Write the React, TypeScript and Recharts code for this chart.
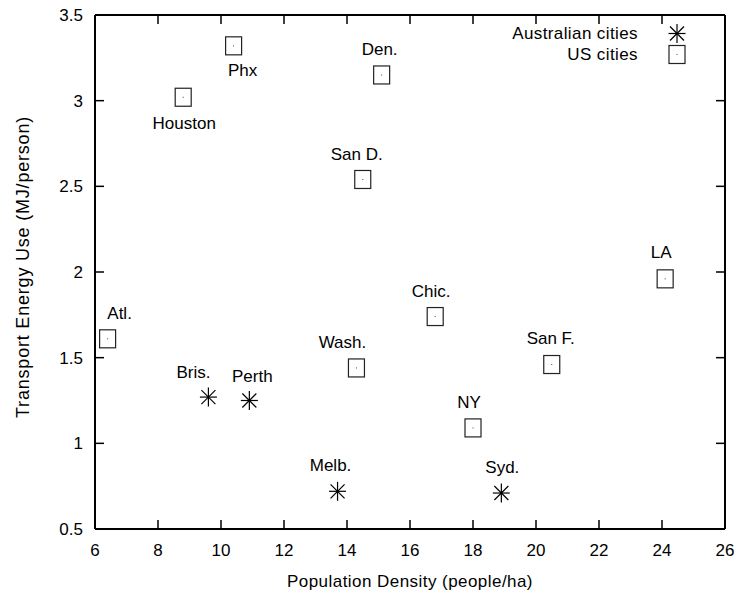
import React from "react";
import { ScatterChart, Scatter, XAxis, YAxis, Legend } from "recharts";

// US cities
const usCities = ["Atl.", "Houston", "Phx", "Den.", "San D.", "LA", "Chic.", "Wash.", "San F.", "NY"];
const usDensity = [6.4, 8.8, 10.4, 15.1, 14.5, 24.1, 16.8, 14.3, 20.5, 18.0];
const usEnergy = [1.61, 3.02, 3.32, 3.15, 2.54, 1.96, 1.74, 1.44, 1.46, 1.09];

// Australian cities
const auCities = ["Bris.", "Perth", "Melb.", "Syd."];
const auDensity = [9.6, 10.9, 13.7, 18.9];
const auEnergy = [1.27, 1.25, 0.72, 0.71];

const xTicks = [6, 8, 10, 12, 14, 16, 18, 20, 22, 24, 26];
const yTicks = [0.5, 1, 1.5, 2, 2.5, 3, 3.5];

const FONT = "'Liberation Sans', Arial, Helvetica, sans-serif";
const FS = 17;

// where each city name sits relative to its mark (dx, dy of text centre)
const labelOffset: Record<string, [number, number]> = {
  "Atl.": [12, -25],
  Houston: [1, 26],
  Phx: [9, 25],
  "Den.": [-2, -25],
  "San D.": [-6, -25],
  LA: [-4, -26],
  "Chic.": [-4, -25],
  "Wash.": [-14, -25],
  "San F.": [-1, -26],
  NY: [-4, -25],
  "Bris.": [-15, -25],
  Perth: [3, -24],
  "Melb.": [-7, -26],
  "Syd.": [1, -26],
};

const usData = usCities.map((name, i) => ({ name, x: usDensity[i], y: usEnergy[i] }));
const auData = auCities.map((name, i) => ({ name, x: auDensity[i], y: auEnergy[i] }));

function SquareMark({ cx, cy }: { cx: number; cy: number }) {
  return (
    <g>
      <rect x={cx - 8} y={cy - 9} width={16} height={18} fill="none" stroke="#222" strokeWidth={1.2} />
      <rect x={cx - 0.5} y={cy - 0.5} width={1} height={1} fill="#444" />
    </g>
  );
}

function StarMark({ cx, cy }: { cx: number; cy: number }) {
  return (
    <g stroke="#000" strokeWidth={1.2}>
      <line x1={cx} y1={cy - 9.5} x2={cx} y2={cy + 9.5} />
      <line x1={cx - 8.5} y1={cy} x2={cx + 8.5} y2={cy} />
      <line x1={cx - 7} y1={cy - 7} x2={cx + 7} y2={cy + 7} />
      <line x1={cx - 7} y1={cy + 7} x2={cx + 7} y2={cy - 7} />
    </g>
  );
}

function cityShape(kind: "us" | "au") {
  return (props: any) => {
    const { cx, cy, payload } = props;
    const [dx, dy] = labelOffset[payload.name] || [0, -25];
    return (
      <g>
        {kind === "us" ? <SquareMark cx={cx} cy={cy} /> : <StarMark cx={cx} cy={cy} />}
        <text
          x={cx + dx}
          y={cy + dy}
          textAnchor="middle"
          dominantBaseline="central"
          fontFamily={FONT}
          fontSize={FS}
          fill="#000"
        >
          {payload.name}
        </text>
      </g>
    );
  };
}

function LegendBox({ payload }: any) {
  return (
    <div style={{ fontFamily: FONT, fontSize: FS, color: "#000", letterSpacing: 0.4 }}>
      {(payload || []).map((p: any) => (
        <div key={p.value} style={{ display: "flex", alignItems: "center", justifyContent: "flex-end", height: 21 }}>
          <span>{p.value}</span>
          <svg width={20} height={21} style={{ marginLeft: 29 }}>
            {p.value === "US cities" ? <SquareMark cx={10} cy={10.5} /> : <StarMark cx={10} cy={10.5} />}
          </svg>
        </div>
      ))}
    </div>
  );
}

const tickStyle = { fill: "#000", fontSize: FS, fontFamily: FONT };
const noLabel = () => <g />;
const tickLineStyle = { stroke: "#000", strokeWidth: 1.5 };

export default function App() {
  return (
    <div style={{ position: "absolute", left: 0, top: 0, width: 740, height: 596, background: "#fff" }}>
      <ScatterChart width={740} height={596} margin={{ top: 15, right: 15, bottom: 7, left: 35 }}>
        <XAxis
          type="number"
          dataKey="x"
          domain={[6, 26]}
          ticks={xTicks}
          allowDataOverflow
          height={60}
          tickLine={false}
          tickSize={0}
          tickMargin={15}
          tick={tickStyle}
          axisLine={{ stroke: "#000", strokeWidth: 2 }}
          label={{
            value: "Population Density (people/ha)",
            position: "insideBottom",
            offset: 2,
            fill: "#000",
            fontSize: FS,
            fontFamily: FONT,
            letterSpacing: 0.45,
          }}
        />
        <XAxis
          xAxisId="bottomTicks"
          type="number"
          dataKey="x"
          domain={[6, 26]}
          ticks={xTicks}
          allowDataOverflow
          orientation="bottom"
          mirror
          tick={noLabel}
          axisLine={false}
          tickSize={9}
          tickLine={tickLineStyle}
        />
        <XAxis
          xAxisId="top"
          type="number"
          dataKey="x"
          domain={[6, 26]}
          ticks={xTicks}
          allowDataOverflow
          orientation="top"
          mirror
          tick={noLabel}
          tickSize={9}
          axisLine={{ stroke: "#000", strokeWidth: 2 }}
          tickLine={tickLineStyle}
        />
        <YAxis
          type="number"
          dataKey="y"
          domain={[0.5, 3.5]}
          ticks={yTicks}
          allowDataOverflow
          width={60}
          tickLine={false}
          tickSize={0}
          tickMargin={12}
          tick={tickStyle}
          axisLine={{ stroke: "#000", strokeWidth: 2 }}
          label={{
            content: (props: any) => {
              const vb = props.viewBox || { x: 35, y: 15, width: 60, height: 514 };
              const x = vb.x - 12;
              const y = vb.y + vb.height / 2 - 5;
              return (
                <text
                  x={x}
                  y={y}
                  transform={`rotate(-90 ${x} ${y})`}
                  textAnchor="middle"
                  dominantBaseline="central"
                  fontFamily={FONT}
                  fontSize={18}
                  letterSpacing={0.8}
                  fill="#000"
                >
                  Transport Energy Use (MJ/person)
                </text>
              );
            },
          }}
        />
        <YAxis
          yAxisId="leftTicks"
          type="number"
          dataKey="y"
          domain={[0.5, 3.5]}
          ticks={yTicks}
          allowDataOverflow
          orientation="left"
          mirror
          tick={noLabel}
          axisLine={false}
          tickSize={9}
          tickLine={tickLineStyle}
        />
        <YAxis
          yAxisId="right"
          type="number"
          dataKey="y"
          domain={[0.5, 3.5]}
          ticks={yTicks}
          allowDataOverflow
          orientation="right"
          mirror
          tick={noLabel}
          tickSize={9}
          axisLine={{ stroke: "#000", strokeWidth: 2 }}
          tickLine={tickLineStyle}
        />
        <Legend
          layout="vertical"
          align="center"
          verticalAlign="middle"
          content={<LegendBox />}
          wrapperStyle={{ top: 23, right: 53 }}
        />
        <Scatter
          name="Australian cities"
          data={auData}
          shape={cityShape("au")}
          isAnimationActive={false}
        />
        <Scatter
          name="US cities"
          data={usData}
          shape={cityShape("us")}
          isAnimationActive={false}
        />
      </ScatterChart>
    </div>
  );
}
